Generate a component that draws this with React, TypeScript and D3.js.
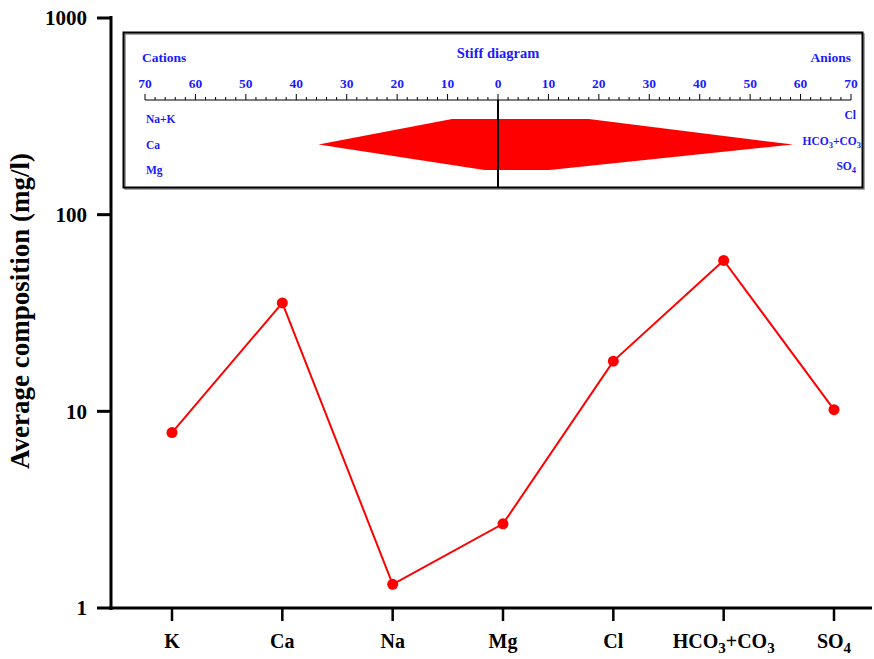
import React from 'react';
import * as d3 from 'd3';

// ions along the x axis, average composition in mg/l
const ions = ['K', 'Ca', 'Na', 'Mg', 'Cl', 'HCO3+CO3', 'SO4'];
const composition = [7.8, 35.6, 1.32, 2.68, 18.0, 58.5, 10.2];
const yTicks = [1, 10, 100, 1000];

// stiff diagram rows (cation on the left, anion on the right)
const cationRows = ['Na+K', 'Ca', 'Mg'];
const anionRows = ['Cl', 'HCO3+CO3', 'SO4'];
const stiffTicks = [-70, -60, -50, -40, -30, -20, -10, 0, 10, 20, 30, 40, 50, 60, 70];

const W = 874;
const H = 659;
const serif = '"Liberation Serif", "Times New Roman", serif';
const blue = '#1a1aff';

// renders chemical names with subscript digits
const Chem = ({ name, sub, shift }: { name: string; sub: number; shift: number }) => {
  const parts = name.split(/(\d)/).filter((p) => p !== '');
  return (
    <>
      {parts.map((p, i) =>
        /\d/.test(p) ? (
          <tspan key={i} fontSize={sub} dy={shift}>{p}</tspan>
        ) : (
          <tspan key={i} dy={i > 0 && /\d/.test(parts[i - 1]) ? -shift : 0}>{p}</tspan>
        )
      )}
    </>
  );
};

const App = () => {
  const value = (name: string) => composition[ions.indexOf(name)];

  const x = d3.scalePoint<string>().domain(ions).range([172, 834]);
  const y = d3.scaleLog().domain([1, 1000]).range([608, 18]);

  const line = d3
    .line<number>()
    .x((_, i) => x(ions[i]) as number)
    .y((d) => y(d));

  // stiff inset
  const sx = d3.scaleLinear().domain([-70, 70]).range([145, 851]);
  const sy = d3.scalePoint<number>().domain([0, 1, 2]).range([119, 170]);
  const cationVals = [value('Na') + value('K'), value('Ca'), value('Mg')];
  const anionVals = [value('Cl'), value('HCO3+CO3'), value('SO4')];
  const poly: [number, number][] = [
    ...cationVals.map((v, i) => [sx(-v), sy(i) as number] as [number, number]),
    ...anionVals
      .map((v, i) => [sx(v), sy(i) as number] as [number, number])
      .reverse(),
  ];
  const minor = d3.range(-70, 71, 2);

  return (
    <svg width={W} height={H} style={{ position: 'absolute', left: 0, top: 0 }} fontFamily={serif}>
      <rect width={W} height={H} fill="white" />

      {/* y axis */}
      <line x1={111} x2={111} y1={16} y2={610} stroke="black" strokeWidth={3} />
      {yTicks.map((t) => (
        <g key={t}>
          <line x1={97} x2={111} y1={y(t)} y2={y(t)} stroke="black" strokeWidth={3} />
          <text x={87} y={y(t)} dy="0.35em" textAnchor="end" fontSize={21} fontWeight="bold">
            {t}
          </text>
        </g>
      ))}
      <text
        transform={`translate(29, 311) rotate(-90)`}
        textAnchor="middle"
        fontSize={27}
        fontWeight="bold"
      >
        Average composition (mg/l)
      </text>

      {/* x axis */}
      <line x1={109.5} x2={872} y1={608} y2={608} stroke="black" strokeWidth={3} />
      {ions.map((c) => (
        <g key={c}>
          <line x1={x(c)} x2={x(c)} y1={608} y2={621} stroke="black" strokeWidth={2.5} />
          <text x={x(c)} y={648} textAnchor="middle" fontSize={20} fontWeight="bold">
            <Chem name={c} sub={15} shift={5} />
          </text>
        </g>
      ))}

      {/* series */}
      <path d={line(composition) ?? ''} fill="none" stroke="#ff0000" strokeWidth={2} />
      {composition.map((v, i) => (
        <circle key={i} cx={x(ions[i])} cy={y(v)} r={5.5} fill="#ff0000" />
      ))}

      {/* stiff diagram inset */}
      <rect x={125} y={34} width={739} height={155} fill="white" stroke="#888" strokeWidth={1.5} />
      <rect x={123.5} y={32.5} width={739} height={155} fill="none" stroke="black" strokeWidth={2} />
      <text x={142} y={62} fill={blue} fontSize={13.5} fontWeight="bold">Cations</text>
      <text x={sx(0)} y={58} fill={blue} fontSize={14.5} fontWeight="bold" textAnchor="middle">
        Stiff diagram
      </text>
      <text x={851} y={62} fill={blue} fontSize={13.5} fontWeight="bold" textAnchor="end">Anions</text>

      <line x1={sx(-70)} x2={sx(70)} y1={100} y2={100} stroke="black" strokeWidth={1.2} />
      {minor.map((t) => (
        <line
          key={t}
          x1={sx(t)}
          x2={sx(t)}
          y1={100}
          y2={t % 10 === 0 ? 94 : 97}
          stroke="black"
          strokeWidth={1}
        />
      ))}
      {stiffTicks.map((t) => (
        <text key={t} x={sx(t)} y={88} fill={blue} fontSize={13.5} fontWeight="bold" textAnchor="middle">
          {Math.abs(t)}
        </text>
      ))}

      <path d={`M${poly.map((p) => p.join(',')).join('L')}Z`} fill="#ff0000" />
      <line x1={sx(0)} x2={sx(0)} y1={100} y2={188} stroke="black" strokeWidth={2} />

      {cationRows.map((r, i) => (
        <text key={r} x={146} y={sy(i)} dy="0.35em" fill={blue} fontSize={11.5} fontWeight="bold">
          {r}
        </text>
      ))}
      {anionRows.map((r, i) => (
        <text
          key={r}
          x={i === 1 ? 861 : 856}
          y={sy(i)}
          dy="0.35em"
          fill={blue}
          fontSize={11.5}
          fontWeight="bold"
          textAnchor="end"
        >
          <Chem name={r} sub={8.5} shift={3} />
        </text>
      ))}
    </svg>
  );
};

export default App;
